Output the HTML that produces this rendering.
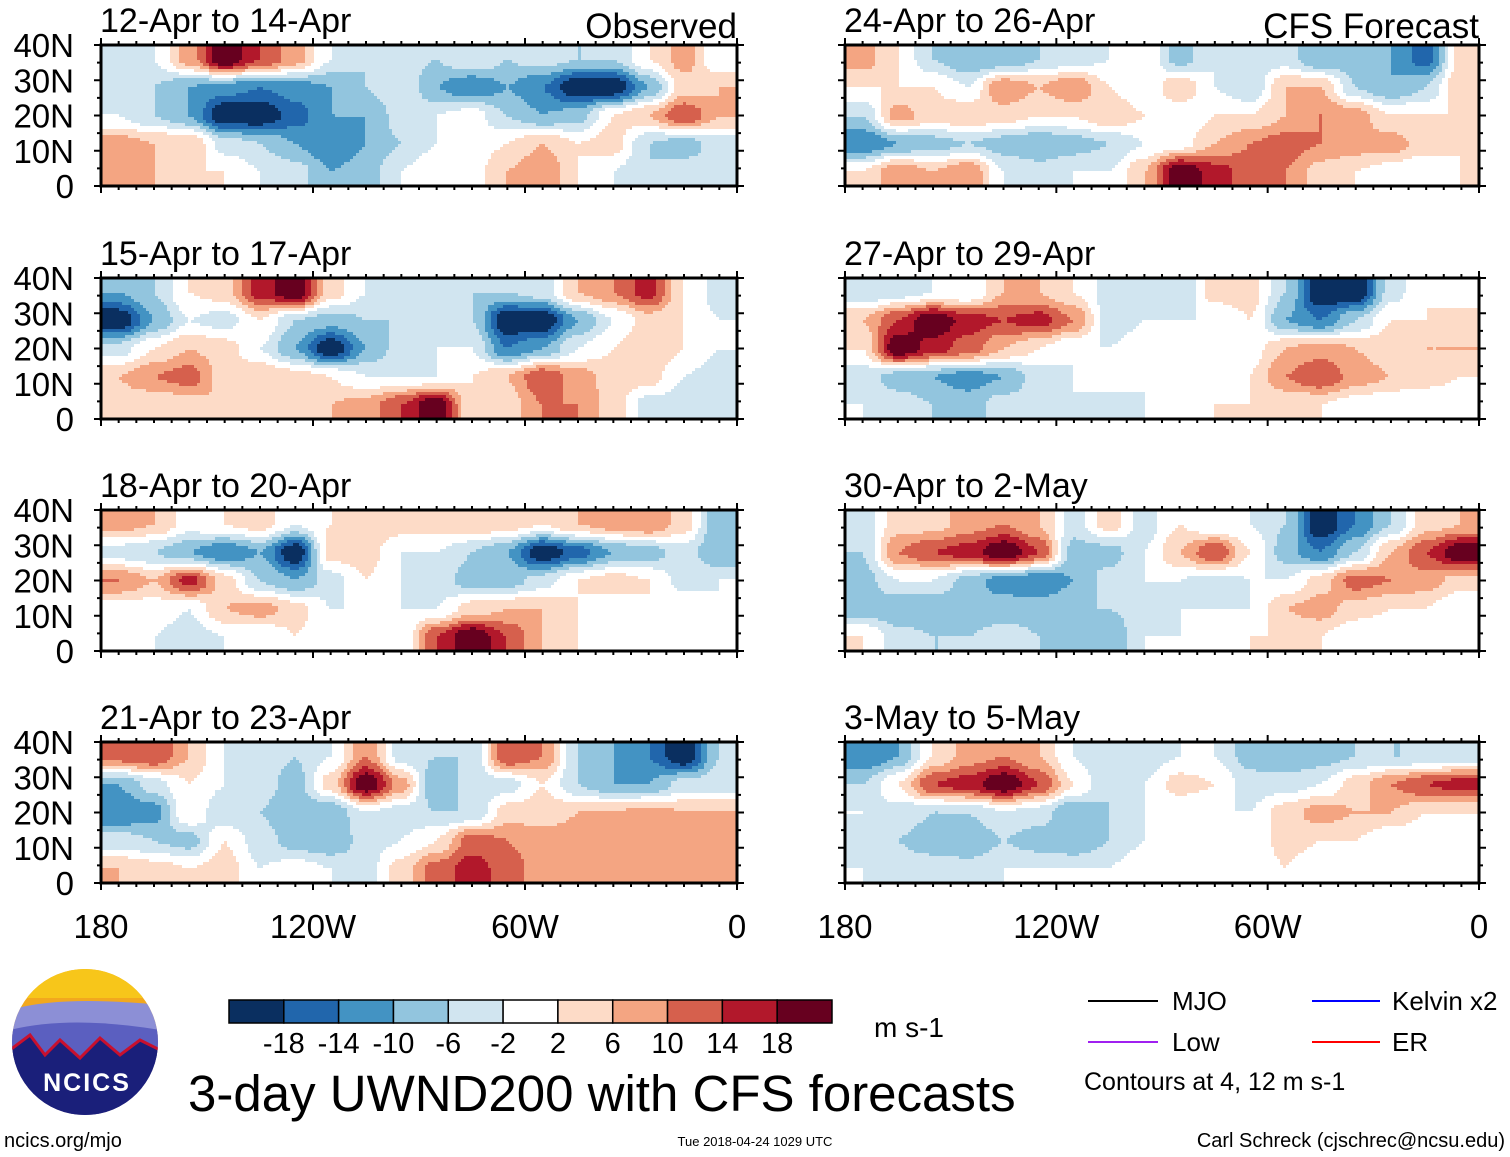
<!DOCTYPE html>
<html><head><meta charset="utf-8"><style>
body{margin:0;background:#fff;}
svg text{font-family:"Liberation Sans",Arial,sans-serif;}
</style></head><body>
<svg id="s" width="1510" height="1157" viewBox="0 0 1510 1157" xmlns="http://www.w3.org/2000/svg" style="position:absolute;left:0;top:0">
</svg>
<script>
const titles=["12-Apr to 14-Apr","15-Apr to 17-Apr","18-Apr to 20-Apr","21-Apr to 23-Apr","24-Apr to 26-Apr","27-Apr to 29-Apr","30-Apr to 2-May","3-May to 5-May"];
const lonTicks=["180","120W","60W","0"];
const latTicks=["40N","30N","20N","10N","0"];
const cbLabels=["-18","-14","-10","-6","-2","2","6","10","14","18"];
const cbLevels=[-18,-14,-10,-6,-2,2,6,10,14,18];
const cbColors=["#0a2f60","#2166ac","#4393c3","#92c5de","#d1e5f0","#ffffff","#fddbc7","#f4a582","#d6604d","#b2182b","#67001f"];
const f1=[[-4,-2,8,22,14,8,-2,-6,-4,-6,-2,-6,-4,-6,-6,2,8,-2],[-6,-6,-10,-12,-14,-12,-10,-6,-2,-10,-14,-10,-14,-22,-22,-10,4,6],[-2,-6,-10,-22,-22,-16,-10,-10,-4,-2,0,-6,-10,-8,2,6,14,6],[8,6,6,-4,-6,-10,-14,-10,-6,-2,0,2,6,2,4,-6,-8,-4],[6,6,2,2,-2,-4,-10,-8,-2,2,0,6,10,2,-2,-6,-4,-6]];
const f2=[[-10,-6,2,4,16,22,4,-2,-4,-2,-6,-6,-4,6,10,16,2,-4],[-22,-10,-2,-4,2,-6,-8,-6,-6,-4,-6,-22,-22,-10,-2,4,2,-2],[-4,2,6,4,-2,-10,-22,-10,-4,-2,-2,-14,-10,-2,2,6,2,-2],[6,10,12,4,6,4,2,-2,-2,-2,2,6,14,8,4,4,-2,-4],[4,2,4,6,4,2,6,8,14,22,2,4,10,10,4,-4,-4,-4]];
const f3=[[8,6,0,2,4,-2,2,6,4,4,6,4,2,6,8,10,4,-10],[-4,-6,-10,-14,-10,-22,4,4,-2,-2,-6,-10,-22,-16,-10,-8,-4,-10],[10,6,16,4,-6,-10,-4,2,-2,-4,-8,-8,-4,2,4,2,-4,-2],[0,0,-2,6,8,4,-2,-2,-2,-2,4,6,6,2,0,2,2,-2],[-2,-2,-4,-2,-2,2,-2,-2,-2,14,22,14,6,2,0,-2,-2,-2]];
const f4=[[12,14,6,-2,-4,-6,-2,10,-4,-6,-6,14,10,-6,-10,-14,-22,-6],[-10,-4,2,-2,-4,-8,4,22,8,-10,-4,-4,2,-6,-10,-10,-4,-4],[-14,-12,2,-6,-6,-10,-10,-2,-4,-6,-6,4,4,6,6,8,6,6],[-4,-6,-8,2,-4,-8,-10,-4,-2,2,12,10,8,8,8,6,6,6],[6,4,2,4,-2,0,-2,-4,4,12,16,12,8,6,6,8,8,6]];
const f5=[[8,2,-6,-10,-10,-6,-4,-2,2,-8,-2,-4,-4,-10,-8,-10,-16,4],[2,2,2,-2,10,6,10,2,-2,6,-2,-6,6,6,-6,-10,-6,6],[-6,8,4,6,4,2,2,6,2,-2,2,2,6,10,8,2,2,2],[-14,-10,-8,-6,-8,-10,-8,-6,-2,0,6,10,12,10,8,8,4,2],[2,10,6,10,-2,-4,-2,-2,6,22,16,12,10,4,2,0,-2,2]];
const f6=[[-6,-4,-2,-2,6,6,2,-4,-6,-6,4,4,-6,-22,-22,-4,2,-2],[6,14,22,16,14,16,10,-4,-2,-2,-2,2,-10,-14,-6,2,2,4],[2,22,16,12,6,2,-2,-2,0,-2,-2,0,6,8,6,4,6,6],[-4,-8,-10,-12,-10,-4,-2,0,-2,-2,-2,2,10,14,8,6,4,2],[-2,-4,-6,-8,-4,-4,-2,-4,-2,0,2,2,2,2,0,-2,-2,-2]];
const f7=[[-4,4,4,8,10,6,-4,4,-4,2,-2,-2,-6,-22,-14,-6,4,6],[-6,10,14,16,22,14,-8,-8,-2,6,14,2,-8,-14,-6,6,14,22],[-8,-2,-2,-8,-12,-14,-10,-4,-2,-2,-4,-2,-2,4,12,10,8,4],[-8,-10,-10,-10,-8,-8,-6,-6,-4,-2,-2,-2,6,8,4,2,2,-2],[2,-4,-6,-6,-4,-6,-8,-10,-2,-2,-2,2,2,2,-2,-2,-2,-2]];
const f8=[[-14,-10,2,8,10,6,-2,-6,-4,-2,-2,-8,-10,-8,-6,-6,-6,-4],[-6,2,14,16,22,14,2,-6,-2,4,2,-4,-4,-2,4,10,14,16],[-2,-4,-6,-6,-2,-4,-10,-6,-2,-2,-2,-2,4,8,6,6,2,2],[-4,-6,-8,-10,-6,-8,-10,-6,-2,-2,-2,-2,4,2,2,-2,-2,-2],[-2,-4,-4,-4,-2,-2,-2,-2,2,0,-2,-2,2,-2,-2,-2,-2,-2]];
const fields=[f1,f2,f3,f4,f5,f6,f7,f8];

const S=document.getElementById('s');const NS="http://www.w3.org/2000/svg";
function mk(t,a,p){const e=document.createElementNS(NS,t);for(const k in a)e.setAttribute(k,a[k]);(p||S).appendChild(e);return e;}
function col(v){let i=0;while(i<cbLevels.length&&v>=cbLevels[i])i++;return cbColors[i];}
const PX=[101,845],PW=[636,634],PY=[45,278,510,742],PH=141;
function sm(t){return t*t*(3-2*t);}
function sample(F,u,v){
  const nr=F.length,nc=F[0].length;
  u=Math.max(0,Math.min(nc-1,u));v=Math.max(0,Math.min(nr-1,v));
  const j=Math.min(nc-2,Math.floor(u)),i=Math.min(nr-2,Math.floor(v));
  const a=sm(u-j),b=sm(v-i);
  return (F[i][j]*(1-a)+F[i][j+1]*a)*(1-b)+(F[i+1][j]*(1-a)+F[i+1][j+1]*a)*b;
}
for(let k=0;k<8;k++){
  const c=k<4?0:1,r=k%4,F=fields[k];
  const g=mk('g',{});
  
  
  const nr=F.length,nc=F[0].length;
  const cw=3,ch=3;
  const NX=Math.ceil(PW[c]/cw),NY=Math.ceil(PH/ch);
  const hg=mk('g',{'shape-rendering':'crispEdges'},g);
  for(let y=0;y<NY;y++){
    let runStart=0,runCol=null;
    const v=(y+0.5)*ch/PH*nr-0.5;
    for(let x=0;x<=NX;x++){
      let cc=null;
      if(x<NX){const u=(x+0.5)*cw/PW[c]*nc-0.5;cc=col(sample(F,u,v));}
      if(cc!==runCol){
        if(runCol!==null){
          const w=Math.min(x*cw,PW[c])-runStart*cw;
          const e=mk('rect',{x:PX[c]+runStart*cw,y:PY[r]+y*ch,width:w,height:Math.min(ch,PH-y*ch)+0.5,fill:runCol},hg);
          
          
        }
        runStart=x;runCol=cc;
      }
    }
  }
  const fr=mk('rect',{x:PX[c],y:PY[r],width:PW[c],height:PH,fill:'none',stroke:'#000','stroke-width':3},g);
  
  
  for(let t=0;t<=36;t++){const x=PX[c]+PW[c]*t/36,L=t%12==0?7:4;
    mk('line',{x1:x,x2:x,y1:PY[r]-L,y2:PY[r],stroke:'#000','stroke-width':2},g);
    mk('line',{x1:x,x2:x,y1:PY[r]+PH,y2:PY[r]+PH+L,stroke:'#000','stroke-width':2},g);}
  for(let t=0;t<=8;t++){const y=PY[r]+PH*t/8,L=t%2==0?7:4;
    mk('line',{x1:PX[c]-L,x2:PX[c],y1:y,y2:y,stroke:'#000','stroke-width':2},g);
    mk('line',{x1:PX[c]+PW[c],x2:PX[c]+PW[c]+L,y1:y,y2:y,stroke:'#000','stroke-width':2},g);}
  const tt=mk('text',{x:PX[c]-1,y:PY[r]-13,'font-size':34},g);tt.textContent=titles[k];
  
  
  if(c==0){latTicks.forEach((l,i)=>{const e=mk('text',{x:74,y:PY[r]+PH*i/4+12,'font-size':33,'text-anchor':'end'},g);e.textContent=l;
    
    });}
  if(r==3){lonTicks.forEach((l,i)=>{const e=mk('text',{x:PX[c]+PW[c]*i/3,y:938,'font-size':33,'text-anchor':'middle'},g);e.textContent=l;
    
    });}
}
const o=mk('text',{x:737,y:38,'font-size':35,'text-anchor':'end'});o.textContent="Observed";


const cf=mk('text',{x:1479,y:38,'font-size':35,'text-anchor':'end'});cf.textContent="CFS Forecast";


const cb=mk('g',{});


const bw=603/11;
cbColors.forEach((cc,i)=>{const e=mk('rect',{x:229+i*bw,y:1000,width:bw,height:23,fill:cc,stroke:'#000','stroke-width':1.5},cb);
  
  });
cbLabels.forEach((l,i)=>{const e=mk('text',{x:229+(i+1)*bw,y:1053,'font-size':29,'text-anchor':'middle'},cb);e.textContent=l;
  
  });
</script>
<svg width="1510" height="1157" style="position:absolute;left:0;top:0" xmlns="http://www.w3.org/2000/svg">
<g>
<defs><clipPath id="lc"><circle cx="85" cy="1042" r="73"/></clipPath></defs>
<g clip-path="url(#lc)">
<rect x="10" y="968" width="150" height="150" fill="#f2a81e"/>
<rect x="10" y="968" width="150" height="30" fill="#f7c61a"/>
<path d="M10 1010 Q60 995 160 1005 L160 1118 L10 1118Z" fill="#8c8fd6"/>
<path d="M10 1030 Q70 1015 160 1030 L160 1118 L10 1118Z" fill="#5b5fc0"/>
<path d="M10 1050 L30 1035 L45 1055 L60 1040 L80 1058 L100 1038 L120 1055 L140 1040 L160 1050 L160 1118 L10 1118Z" fill="#1a1f7a" stroke="#c8102e" stroke-width="3"/>
</g>
<text x="87" y="1091" font-size="25" font-weight="bold" fill="#fff" text-anchor="middle" font-family="Liberation Sans" letter-spacing="2">NCICS</text>
</g>
<text x="874" y="1037" font-size="28" font-family="Liberation Sans">m s-1</text>
<text x="188" y="1111" font-size="51" font-family="Liberation Sans">3-day UWND200 with CFS forecasts</text>
<g font-family="Liberation Sans" font-size="26">
<line x1="1088" x2="1158" y1="1001" y2="1001" stroke="#000" stroke-width="2"/><text x="1172" y="1010">MJO</text>
<line x1="1312" x2="1380" y1="1001" y2="1001" stroke="#0000ff" stroke-width="2"/><text x="1392" y="1010">Kelvin x2</text>
<line x1="1088" x2="1158" y1="1042" y2="1042" stroke="#a020f0" stroke-width="2"/><text x="1172" y="1051">Low</text>
<line x1="1312" x2="1380" y1="1042" y2="1042" stroke="#ff0000" stroke-width="2"/><text x="1392" y="1051">ER</text>
<text x="1084" y="1090" font-size="25">Contours at 4, 12 m s-1</text>
</g>
<text x="4" y="1147" font-size="20" font-family="Liberation Sans">ncics.org/mjo</text>
<text x="755" y="1146" font-size="13" font-family="Liberation Sans" text-anchor="middle">Tue 2018-04-24 1029 UTC</text>
<text x="1505" y="1147" font-size="20" font-family="Liberation Sans" text-anchor="end">Carl Schreck (cjschrec@ncsu.edu)</text>
</svg>
</body></html>
